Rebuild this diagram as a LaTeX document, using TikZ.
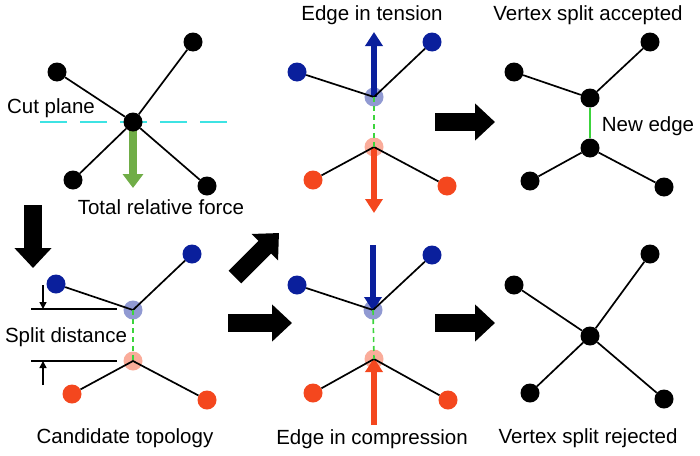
\documentclass[tikz,border=0pt]{standalone}
\usepackage{fontspec}
\setmainfont{Liberation Sans}
\usetikzlibrary{arrows.meta}
\definecolor{nblue}{HTML}{0A1F9C}
\definecolor{nred}{HTML}{F4471E}
\definecolor{fgreen}{HTML}{70AD47}
\definecolor{ecyan}{HTML}{3DE3E3}
\definecolor{egreen}{HTML}{3CD43C}
\begin{document}
\begin{tikzpicture}[x=1pt,y=-1pt,
  vtx/.style={circle,fill=black,inner sep=0pt,minimum size=19pt},
  bvtx/.style={vtx,fill=nblue},
  rvtx/.style={vtx,fill=nred},
  bghost/.style={vtx,fill=nblue,fill opacity=0.45},
  rghost/.style={vtx,fill=nred,fill opacity=0.45},
  edge/.style={line width=1.7pt},
  bigarrow/.style={line width=18pt,-{Triangle[width=36pt,length=20pt]}},
  barrow/.style={nblue,line width=6.5pt,-{Triangle[width=17pt,length=14pt]}},
  rarrow/.style={nred,line width=6.5pt,-{Triangle[width=17pt,length=14pt]}},
  gdash/.style={egreen,line width=1.6pt,dash pattern=on 5pt off 4pt},
  lbl/.style={font=\fontsize{20.5}{23}\selectfont,inner sep=0pt},
  splitline/.style={line width=2.5pt},
  smallarrow/.style={line width=1.5pt,-{Triangle[width=7pt,length=7pt]}}]
\useasboundingbox (0,0) rectangle (700,455);

% ---------- Panel 1: original vertex ----------
\coordinate (cutL) at (40,122);
\coordinate (cutR) at (228,122);
\draw[ecyan,line width=2pt,dash pattern=on 27pt off 13pt] (cutL) -- (cutR);
\coordinate (c1p) at (133,122);
\coordinate (fTip) at (133,188);
\draw[fgreen,line width=8pt,-{Triangle[width=20pt,length=14pt]}] (c1p) -- (fTip);
\node[vtx] (c1) at (133,122) {};
\node[vtx] (a1) at (57,72) {};
\node[vtx] (b1) at (193,42) {};
\node[vtx] (d1) at (73,180) {};
\node[vtx] (e1) at (207,186) {};
\draw[edge] (a1) -- (c1) (b1) -- (c1) (d1) -- (c1) (e1) -- (c1);
\node[lbl] (cutlbl) at (51,108) {Cut plane};
\node[lbl] (forcelbl) at (161,207) {Total relative force};

% big arrow down
\coordinate (dA) at (33,205);
\coordinate (dB) at (33,268);
\draw[bigarrow] (dA) -- (dB);

% ---------- Panel 2: candidate topology ----------
\coordinate (s1L) at (31,309);
\coordinate (s1R) at (117,309);
\coordinate (s2L) at (31,361);
\coordinate (s2R) at (117,361);
\draw[splitline] (s1L) -- (s1R);
\draw[splitline] (s2L) -- (s2R);
\coordinate (sa1) at (43,285);
\coordinate (sa1t) at (43,309);
\coordinate (sa2) at (43,385);
\coordinate (sa2t) at (43,361);
\draw[smallarrow] (sa1) -- (sa1t);
\draw[smallarrow] (sa2) -- (sa2t);
\node[bghost] (g2t) at (133,310) {};
\node[rghost] (g2b) at (133,361) {};
\node[bvtx] (bl2) at (56,284) {};
\node[bvtx] (bt2) at (192,254) {};
\node[rvtx] (rl2) at (72,394) {};
\node[rvtx] (rr2) at (207,400) {};
\draw[edge] (bl2) -- (g2t.center) -- (bt2);
\draw[edge] (rl2) -- (g2b.center) -- (rr2);
\draw[gdash] (g2t.center) -- (g2b.center);
\node[lbl] (splitlbl) at (66,337) {Split distance};
\node[lbl] (candlbl) at (125,438) {Candidate topology};

% arrows from candidate
\coordinate (diA) at (235,277);
\coordinate (diB) at (279,233);
\draw[bigarrow] (diA) -- (diB);
\coordinate (hA) at (228,323);
\coordinate (hB) at (292,323);
\draw[bigarrow] (hA) -- (hB);

% ---------- Panel 3: tension ----------
\coordinate (t3s) at (374,97);
\coordinate (t3e) at (374,32);
\coordinate (t3rs) at (374,147);
\coordinate (t3re) at (374,213);
\draw[barrow] (t3s) -- (t3e);
\draw[rarrow] (t3rs) -- (t3re);
\node[bghost] (g3t) at (374,97) {};
\node[rghost] (g3b) at (374,147) {};
\node[bvtx] (bl3) at (297,72) {};
\node[bvtx] (bt3) at (432,42) {};
\node[rvtx] (rl3) at (313,180) {};
\node[rvtx] (rr3) at (447,186) {};
\draw[edge] (bl3) -- (g3t.center) -- (bt3);
\draw[edge] (rl3) -- (g3b.center) -- (rr3);
\draw[gdash] (g3t.center) -- (g3b.center);
\node[lbl] (tenslbl) at (372,15) {Edge in tension};

\coordinate (r1A) at (435,122);
\coordinate (r1B) at (495,122);
\draw[bigarrow] (r1A) -- (r1B);

% ---------- Panel 4: accepted ----------
\node[vtx] (t4) at (590,98) {};
\node[vtx] (b4) at (590,148) {};
\node[vtx] (l4) at (514,72) {};
\node[vtx] (tr4) at (650,42) {};
\node[vtx] (bl4) at (530,181) {};
\node[vtx] (br4) at (664,187) {};
\draw[edge] (l4) -- (t4) -- (tr4);
\draw[edge] (bl4) -- (b4) -- (br4);
\draw[egreen,line width=2pt] (t4) -- (b4);
\node[lbl] (newlbl) at (648,126) {New edge};
\node[lbl] (acclbl) at (588,15) {Vertex split accepted};

% ---------- Panel 5: compression ----------
\coordinate (c5s) at (373,245);
\coordinate (c5e) at (373,311);
\coordinate (c5rs) at (374,425);
\coordinate (c5re) at (374,358);
\draw[barrow] (c5s) -- (c5e);
\draw[rarrow] (c5rs) -- (c5re);
\node[bghost] (g5t) at (373,310) {};
\node[rghost] (g5b) at (374,359) {};
\node[bvtx] (bl5) at (297,285) {};
\node[bvtx] (bt5) at (432,255) {};
\node[rvtx] (rl5) at (313,393) {};
\node[rvtx] (rr5) at (448,400) {};
\draw[edge] (bl5) -- (g5t.center) -- (bt5);
\draw[edge] (rl5) -- (g5b.center) -- (rr5);
\draw[gdash] (g5t.center) -- (g5b.center);
\node[lbl] (complbl) at (372,439) {Edge in compression};

\coordinate (r2A) at (435,323);
\coordinate (r2B) at (495,323);
\draw[bigarrow] (r2A) -- (r2B);

% ---------- Panel 6: rejected ----------
\node[vtx] (c6) at (590,336) {};
\node[vtx] (a6) at (514,285) {};
\node[vtx] (b6) at (650,254) {};
\node[vtx] (d6) at (530,393) {};
\node[vtx] (e6) at (664,399) {};
\draw[edge] (a6) -- (c6) (b6) -- (c6) (d6) -- (c6) (e6) -- (c6);
\node[lbl] (rejlbl) at (588,438) {Vertex split rejected};
\end{tikzpicture}
\end{document}
